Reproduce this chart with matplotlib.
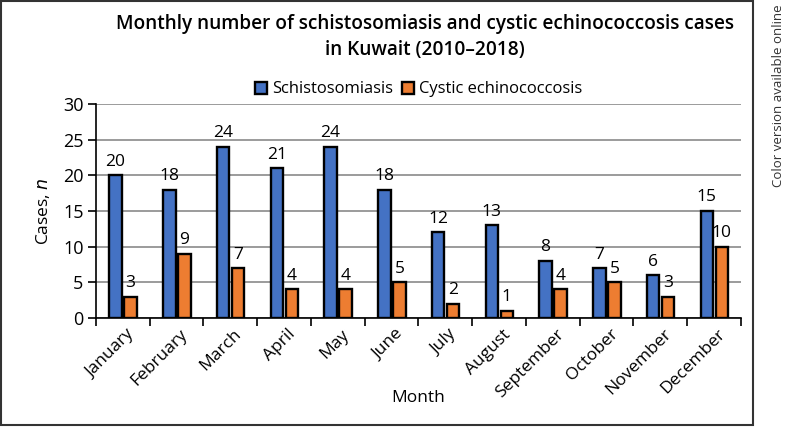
import numpy as np
import matplotlib.pyplot as plt
from matplotlib.patches import Rectangle

months = ["January", "February", "March", "April", "May", "June", "July",
          "August", "September", "October", "November", "December"]
schisto = [20, 18, 24, 21, 24, 18, 12, 13, 8, 7, 6, 15]
echino = [3, 9, 7, 4, 4, 5, 2, 1, 4, 5, 3, 10]

plt.rcParams["font.family"] = ["Open Sans", "DejaVu Sans"]

fig = plt.figure(figsize=(7.93, 4.28), dpi=100)
ax = fig.add_axes([96 / 793, 1 - 318 / 428, (741 - 96) / 793, (318 - 104) / 428])

x = np.arange(len(months))
w = 0.23
b1 = ax.bar(x - 0.135, schisto, w, color="#4472C4", edgecolor="black", linewidth=1.7,
            label="Schistosomiasis", zorder=3)
b2 = ax.bar(x + 0.145, echino, w, color="#ED7D31", edgecolor="black", linewidth=1.7,
            label="Cystic echinococcosis", zorder=3)
ax.bar_label(b1, padding=4, fontsize=12.5)
ax.bar_label(b2, padding=4, fontsize=12.5)

ax.set_xlim(-0.5, 11.5)
ax.set_ylim(0, 30)
ax.set_yticks(range(0, 31, 5))
ax.set_xticks(x + 0.06)
ax.set_xticklabels(months, rotation=45, ha="right", rotation_mode="anchor", fontsize=12.5)
ax.set_xticks(np.arange(-0.5, 12, 1), minor=True)
ax.tick_params(axis="x", which="major", length=0, pad=6)
ax.tick_params(axis="x", which="minor", length=6, width=1.2, direction="out")
ax.tick_params(axis="y", labelsize=13, length=6, width=1.2, pad=3)
ax.grid(axis="y", color="#808080", linewidth=1.1, zorder=0)
for s in ["top", "right"]:
    ax.spines[s].set_visible(False)
ax.spines["left"].set_linewidth(1.2)
ax.spines["bottom"].set_linewidth(1.2)

ax.set_ylabel("Cases, $\\it{n}$", fontsize=12.5, labelpad=8)
ax.set_xlabel("Month", fontsize=12.5)
ax.xaxis.set_label_coords(0.5, -(398 - 318) / 214, transform=ax.transAxes)
ax.xaxis.label.set_va("center")

ax.legend(loc="lower center", bbox_to_anchor=(0.5, 1.0), ncol=2, frameon=False,
          fontsize=11.9, handlelength=0.75, handleheight=0.75, handletextpad=0.3,
          columnspacing=0.5, borderaxespad=0.0)

fig.text(425 / 793, 1 - 37 / 428, "Monthly number of schistosomiasis and cystic echinococcosis cases\nin Kuwait (2010\u20132018)",
         ha="center", va="center", fontsize=13.7, fontweight="semibold", linespacing=1.4)

fig.patches.append(Rectangle((1 / 793, 3 / 428), 752 / 793, 424 / 428, transform=fig.transFigure,
                             fill=False, edgecolor="#333333", linewidth=1.5))
fig.text(779 / 793, 1 - 96 / 428, "Color version available online", rotation=90, ha="center",
         va="center", fontsize=9.5, color="#333333")

fig.savefig("out.png", dpi=100)
